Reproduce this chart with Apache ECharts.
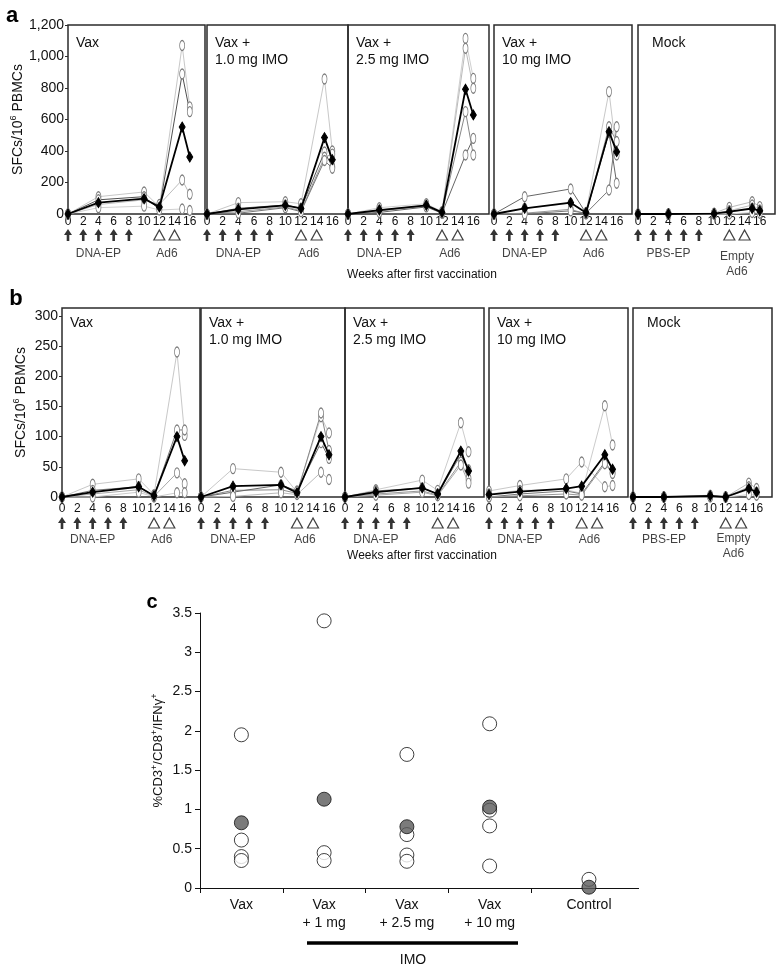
<!DOCTYPE html>
<html><head><meta charset="utf-8">
<script src="https://cdn.jsdelivr.net/npm/echarts@6/dist/echarts.min.js"></script>
<style>html,body{margin:0;padding:0;background:#fff}#chart{width:777px;height:970px}</style>
</head><body><div id="chart"></div>
<script>
// ---------- DATA ----------
const weeks = [0, 4, 10, 12, 15, 16];
const panelNames = ['Vax', 'Vax +\n1.0 mg IMO', 'Vax +\n2.5 mg IMO', 'Vax +\n10 mg IMO', 'Mock'];
const epWeeks = [0, 2, 4, 6, 8];
const adWeeks = [12, 14];
const epLabels = ['DNA-EP', 'DNA-EP', 'DNA-EP', 'DNA-EP', 'PBS-EP'];
const adLabels = ['Ad6', 'Ad6', 'Ad6', 'Ad6', 'Empty\nAd6'];
const epLabelWeek = 4;
const adLabelWeek = 13;

// panel a (SFCs / 10^6 PBMCs), four animals per group + mean
const aVax   = [[0,110,140,45,1070,680],[0,90,110,30,889,650],[0,60,90,60,216,125],[0,40,50,25,32,22]];
const aVaxMean = [0,72,97,45,552,362];
const aImo1  = [[0,72,78,65,857,400],[0,36,57,36,394,300],[0,15,45,21,360,380],[0,5,40,15,340,290]];
const aImo1Mean = [0,30,55,35,485,345];
const aImo25 = [[0,40,65,15,1115,861],[0,25,55,10,1052,798],[0,20,50,8,650,375],[0,10,45,5,375,480]];
const aImo25Mean = [0,25,55,10,792,629];
const aImo10 = [[0,110,159,5,516,195],[0,36,68,10,777,375],[0,5,30,0,554,460],[0,0,20,5,152,554]];
const aImo10Mean = [0,36,72,8,523,396];
const aMock  = [[0,0,5,42,78,47],[0,0,3,21,57,25],[0,0,0,10,36,15],[0,0,0,0,10,5]];
const aMockMean = [0,0,2,15,35,20];

// panel b
const bVax   = [[0,21,30,4,240,102],[0,11,17,2,111,111],[0,5,12,1,40,22],[0,0,8,0,7,7]];
const bVaxMean = [0,8,17,2,100,60];
const bImo1  = [[0,47,41,8,133,106],[0,11,12,6,139,77],[0,8,20,10,90,64],[0,1,7,4,41,29]];
const bImo1Mean = [0,18,20,7,100,70];
const bImo25 = [[0,12,28,11,123,75],[0,10,15,5,70,45],[0,5,10,3,58,30],[0,3,8,2,53,23]];
const bImo25Mean = [0,8,15,5,76,43];
const bImo10 = [[10,19,30,58,17,19],[5,11,12,6,151,86],[0,5,10,5,58,40],[0,2,5,3,55,39]];
const bImo10Mean = [4,9,14,18,70,46];
const bMock  = [[0,0,3,0,23,14],[0,0,2,0,17,8],[0,0,1,0,12,7],[0,0,0,0,4,3]];
const bMockMean = [0,0,2,0,14,8];

// panel c
const cGroups = ['Vax', 'Vax\n+ 1 mg', 'Vax\n+ 2.5 mg', 'Vax\n+ 10 mg', 'Control'];
const cGroupPos = [0.5, 1.5, 2.5, 3.5, 4.7];
const cOpen = [[1.95,0.61,0.40,0.35],[3.40,0.45,0.35],[1.70,0.68,0.42,0.34],[2.09,0.99,0.79,0.28],[0.11]];
const cFilled = [0.83, 1.13, 0.78, 1.03, 0.01];
const cTickBounds = [0, 1, 2, 3, 4];

// ---------- STYLE / LAYOUT ----------
const FONT = '"Liberation Sans", Arial, sans-serif';
const TXT = '#111';
const shadesA = [
  ['#c8c8c8','#505050','#bdbdbd','#d0d0d0'],
  ['#c8c8c8','#555555','#999999','#777777'],
  ['#cfcfcf','#bbbbbb','#888888','#666666'],
  ['#666666','#c8c8c8','#999999','#777777'],
  ['#bbbbbb','#c4c4c4','#cccccc','#d4d4d4']];
const shadesB = [
  ['#c8c8c8','#777777','#aaaaaa','#cccccc'],
  ['#c8c8c8','#888888','#666666','#bbbbbb'],
  ['#cccccc','#777777','#999999','#aaaaaa'],
  ['#c8c8c8','#cccccc','#777777','#999999'],
  ['#bbbbbb','#c4c4c4','#cccccc','#d4d4d4']];

const rowA = {top:25, height:189, lefts:[68,207,348,494,638], widths:[137,141,141,138,137],
  labelMargin:2, arrowTop:230, epOff:19, adOff:[19,19,19,19,29], titleTop:35, nameGap:41,
  weeksY:275};
const rowB = {top:308, height:189, lefts:[62,201,345,489,633], widths:[138,144,139,139,139],
  labelMargin:6, arrowTop:518, epOff:17, adOff:[17,17,17,17,23], titleTop:315, nameGap:32,
  weeksY:556};

const option = {animation:false, backgroundColor:'#fff', textStyle:{fontFamily:FONT},
  grid:[], xAxis:[], yAxis:[], series:[], graphic:[]};

const arrowPath = 'path://M4,0L8,6H5.3V12H2.7V6H0Z';

function addRow(row, groups, means, shades, yMax, yInterval, yFmt, yName) {
  for (let p = 0; p < 5; p++) {
    const gi = option.grid.length;
    option.grid.push({left:row.lefts[p], top:row.top, width:row.widths[p], height:row.height,
      show:true, borderColor:'#2b2b2b', borderWidth:1.5, backgroundColor:'transparent'});
    option.xAxis.push({gridIndex:gi, type:'value', min:0, max:18, interval:2,
      axisLine:{show:false}, axisTick:{show:false}, splitLine:{show:false},
      axisLabel:{fontSize:12, color:TXT, margin:row.labelMargin, showMaxLabel:false, showMinLabel:true, fontFamily:FONT}});
    option.yAxis.push({gridIndex:gi, type:'value', min:0, max:yMax, interval:yInterval,
      axisLine:{show:false}, axisTick:{show:p===0, length:3, lineStyle:{color:'#2b2b2b'}},
      splitLine:{show:false},
      axisLabel:{show:p===0, fontSize:14, color:TXT, margin:4, formatter:yFmt,
        showMaxLabel:(yMax % yInterval === 0), fontFamily:FONT},
      name: p===0 ? yName : '', nameLocation:'middle', nameGap:row.nameGap, nameRotate:90,
      nameMoveOverlap:false,
      nameTextStyle:{color:TXT, rich:{n:{fontSize:14, lineHeight:18, fontFamily:FONT, color:TXT},
        s:{fontSize:9, lineHeight:9, verticalAlign:'top', fontFamily:FONT, color:TXT}}}});
    groups[p].forEach((arr, k) => {
      option.series.push({type:'line', xAxisIndex:gi, yAxisIndex:gi, clip:false, z:2,
        data: weeks.map((w, i) => [w, arr[i]]),
        symbol:'circle', symbolSize:[5,10], showSymbol:true,
        itemStyle:{color:'#fff', borderColor:'#7a7a7a', borderWidth:1},
        lineStyle:{color:shades[p][k], width:1}});
    });
    option.series.push({type:'line', xAxisIndex:gi, yAxisIndex:gi, clip:false, z:4,
      data: weeks.map((w, i) => [w, means[p][i]]),
      symbol:'diamond', symbolSize:[6,10],
      itemStyle:{color:'#000', borderColor:'#000'}, lineStyle:{color:'#000', width:1.8}});

    // arrow row
    const ai = option.grid.length;
    option.grid.push({left:row.lefts[p], top:row.arrowTop, width:row.widths[p], height:10, show:false});
    option.xAxis.push({gridIndex:ai, type:'value', min:0, max:18, show:false});
    option.yAxis.push({gridIndex:ai, type:'value', min:-1, max:1, show:false});
    option.series.push({type:'scatter', xAxisIndex:ai, yAxisIndex:ai, clip:false,
      data: epWeeks.map(w => [w, 0]), symbol:arrowPath, symbolSize:[8,12],
      itemStyle:{color:'#000'}});
    option.series.push({type:'scatter', xAxisIndex:ai, yAxisIndex:ai, clip:false,
      data: adWeeks.map(w => [w, 0]), symbol:'triangle', symbolSize:[11,10],
      itemStyle:{color:'#fff', borderColor:'#111', borderWidth:1.2}});
    option.series.push({type:'scatter', xAxisIndex:ai, yAxisIndex:ai, clip:false,
      data: [[epLabelWeek, 0]], symbolSize:1, itemStyle:{color:'transparent'},
      label:{show:true, position:'inside', offset:[0,row.epOff], formatter:epLabels[p],
        fontSize:12, color:TXT, fontFamily:FONT}});
    option.series.push({type:'scatter', xAxisIndex:ai, yAxisIndex:ai, clip:false,
      data: [[adLabelWeek, 0]], symbolSize:1, itemStyle:{color:'transparent'},
      label:{show:true, position:'inside', offset:[0,row.adOff[p]], formatter:adLabels[p],
        fontSize:12, lineHeight:15, color:TXT, fontFamily:FONT, align:'center'}});

    option.graphic.push({type:'text', left:row.lefts[p] + (p===4 ? 14 : 8), top:row.titleTop,
      style:{text:panelNames[p], font:'14px ' + FONT, fill:'#111', lineHeight:17}});
  }
  option.graphic.push({type:'text', x:422, y:row.weeksY,
    style:{text:'Weeks after first vaccination', font:'12px ' + FONT, fill:TXT, align:'center', verticalAlign:'middle'}});
}

const commaFmt = v => v.toLocaleString('en-US');
addRow(rowA, [aVax, aImo1, aImo25, aImo10, aMock], [aVaxMean, aImo1Mean, aImo25Mean, aImo10Mean, aMockMean],
  shadesA, 1200, 200, commaFmt, '{n|SFCs/10}{s|6}{n| PBMCs}');
addRow(rowB, [bVax, bImo1, bImo25, bImo10, bMock], [bVaxMean, bImo1Mean, bImo25Mean, bImo10Mean, bMockMean],
  shadesB, 313, 50, v => String(v), '{n|SFCs/10}{s|6}{n| PBMCs}');

// panel c
const ci = option.grid.length;
option.grid.push({left:200, top:613, width:438.6, height:275, show:false});
option.xAxis.push({gridIndex:ci, type:'value', min:0, max:5.3,
  axisLine:{show:true, lineStyle:{color:'#111', width:1}},
  axisTick:{show:true, length:5, customValues:cTickBounds, lineStyle:{color:'#111'}},
  splitLine:{show:false},
  axisLabel:{customValues:cGroupPos, fontSize:14, lineHeight:18, color:TXT, margin:8, fontFamily:FONT,
    formatter: v => { let best = 0; cGroupPos.forEach((g, i) => { if (Math.abs(g - v) < Math.abs(cGroupPos[best] - v)) best = i; }); return cGroups[best]; }}});
option.yAxis.push({gridIndex:ci, type:'value', min:0, max:3.5, interval:0.5,
  axisLine:{show:true, lineStyle:{color:'#111', width:1}},
  axisTick:{show:true, length:5, lineStyle:{color:'#111'}},
  splitLine:{show:false},
  axisLabel:{fontSize:14, color:TXT, margin:8, fontFamily:FONT},
  name:'{n|%CD3}{s|+}{n|/CD8}{s|+}{n|/IFNγ}{s|+}', nameLocation:'middle', nameGap:33, nameRotate:90,
  nameMoveOverlap:false,
  nameTextStyle:{rich:{n:{fontSize:13, lineHeight:17, fontFamily:FONT, color:TXT},
    s:{fontSize:9, lineHeight:9, verticalAlign:'top', fontFamily:FONT, color:TXT}}}});
const openPts = [];
cOpen.forEach((vals, i) => vals.forEach(v => openPts.push([cGroupPos[i], v])));
option.series.push({type:'scatter', xAxisIndex:ci, yAxisIndex:ci, clip:false, z:3,
  data:openPts, symbol:'circle', symbolSize:14,
  itemStyle:{color:'#fff', borderColor:'#111', borderWidth:1}});
option.series.push({type:'scatter', xAxisIndex:ci, yAxisIndex:ci, clip:false, z:4,
  data:cFilled.map((v, i) => [cGroupPos[i], v]), symbol:'circle', symbolSize:14,
  itemStyle:{color:'#5a5a5a', borderColor:'#111', borderWidth:1}});

option.graphic.push(
  {type:'text', x:12, y:16, style:{text:'a', font:'bold 22px ' + FONT, fill:'#000', align:'center', verticalAlign:'middle'}},
  {type:'text', x:16, y:299, style:{text:'b', font:'bold 22px ' + FONT, fill:'#000', align:'center', verticalAlign:'middle'}},
  {type:'text', x:152, y:602, style:{text:'c', font:'bold 20px ' + FONT, fill:'#000', align:'center', verticalAlign:'middle'}},
  {type:'line', shape:{x1:307, y1:943, x2:518, y2:943}, style:{stroke:'#000', lineWidth:3.5}},
  {type:'text', x:413, y:960, style:{text:'IMO', font:'14px ' + FONT, fill:TXT, align:'center', verticalAlign:'middle'}}
);

const chart = echarts.init(document.getElementById('chart'), null, {renderer:'canvas'});
chart.setOption(option);
</script>
</body></html>
